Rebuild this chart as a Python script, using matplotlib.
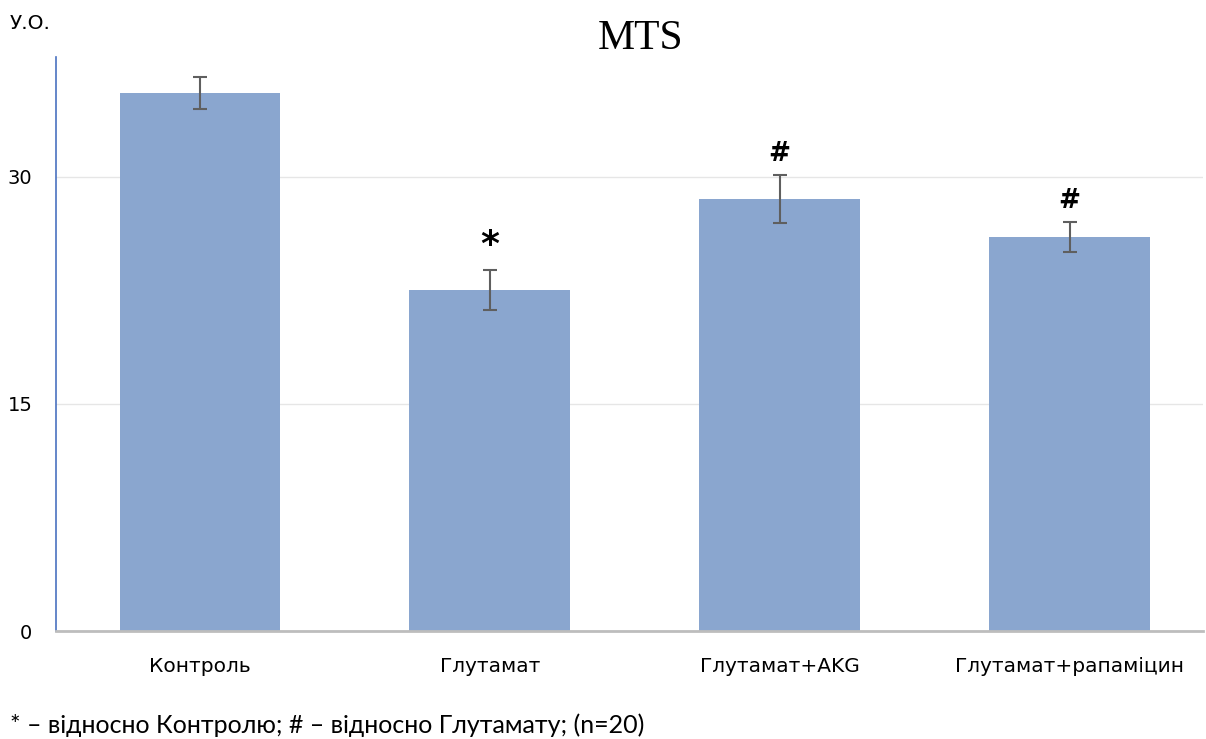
import matplotlib.pyplot as plt
import numpy as np

# MTS values per group, mean and error
groups = ['Контроль', 'Глутамат', 'Глутамат+AKG', 'Глутамат+рапаміцин']
means = [35.5, 22.5, 28.5, 26.0]
errs = [1.05, 1.3, 1.6, 1.0]
marks = ['', '*', '#', '#']
yticks = [0, 15, 30]

bar_color = '#8aa6cf'

fig = plt.figure(figsize=(12.06, 7.39), dpi=100)
ax = fig.add_axes([0.0464, 0.1461, 0.951, 0.777])

x = np.arange(len(groups))
ax.bar(x, means, width=0.555, color=bar_color, zorder=2)
ax.errorbar(x, means, yerr=errs, fmt='none', ecolor='#5f5f5f',
            elinewidth=1.5, capsize=5, capthick=1.5, zorder=3)

for xi, m, e, s in zip(x, means, errs, marks):
    if not s:
        continue
    ax.text(xi, m + e + 0.55, s, ha='center', va='bottom',
            fontsize=26 if s == '*' else 19, fontweight='bold',
            family='DejaVu Sans')

ax.set_xlim(-0.497, 3.46)
ax.set_ylim(0, 37.9)
ax.set_yticks(yticks)
ax.set_yticklabels([str(t) for t in yticks], fontsize=14, family='DejaVu Sans')
ax.set_xticks(x)
ax.set_xticklabels(groups, fontsize=14.5, family='DejaVu Sans')
ax.tick_params(axis='both', length=0)
ax.tick_params(axis='y', pad=17)
ax.tick_params(axis='x', pad=19)

ax.yaxis.grid(True, color='#e6e6e6', linewidth=1, zorder=0)
ax.set_axisbelow(True)

for side in ['top', 'right']:
    ax.spines[side].set_visible(False)
ax.spines['left'].set_color('#4a72c0')
ax.spines['left'].set_linewidth(1.2)
ax.spines['bottom'].set_color('#bdbdbd')
ax.spines['bottom'].set_linewidth(2)

fig.text(0.531, 0.948, 'MTS', ha='center', va='center', fontsize=30,
         family='Liberation Serif')
fig.text(0.008, 0.968, 'У.О.', ha='left', va='center', fontsize=14.5,
         family='DejaVu Sans')
fig.text(0.008, 0.019, '* – відносно Контролю; # – відносно Глутамату; (n=20)',
         ha='left', va='center', fontsize=18, family='Lato')

fig.savefig('out.png', dpi=100)
